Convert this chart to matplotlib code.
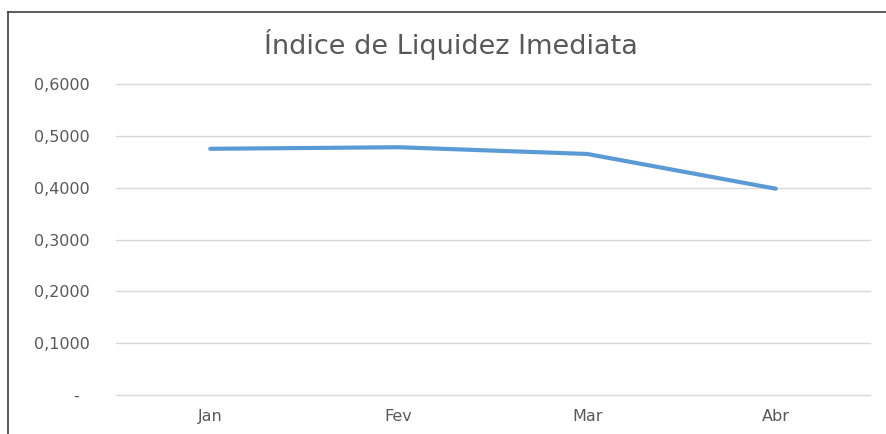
import matplotlib
matplotlib.use("Agg")
import matplotlib.pyplot as plt
from matplotlib.lines import Line2D
from matplotlib.ticker import FuncFormatter

meses = ["Jan", "Fev", "Mar", "Abr"]
liquidez = [0.475, 0.478, 0.465, 0.398]
y_ticks = [0.0, 0.1, 0.2, 0.3, 0.4, 0.5, 0.6]

plt.rcParams["font.family"] = ["DejaVu Sans"]
cinza = "#595959"

fig = plt.figure(figsize=(8.86, 4.34), dpi=100)
ax = fig.add_axes([116 / 886, 39 / 434, (870 - 116) / 886, (395 - 84) / 434])

x = list(range(len(meses)))
ax.plot(x, liquidez, color="#5B9BD5", lw=3, solid_capstyle="round", solid_joinstyle="round", zorder=3)

ax.set_xlim(-0.5, len(meses) - 0.5)
ax.set_ylim(0, 0.6)
ax.set_xticks(x)
ax.set_xticklabels(meses)
ax.set_yticks(y_ticks)


def fmt(v, pos):
    if abs(v) < 1e-9:
        return "-  "
    return f"{v:.4f}".replace(".", ",")


ax.yaxis.set_major_formatter(FuncFormatter(fmt))
ax.grid(axis="y", color="#D9D9D9", lw=1)
for g in ax.yaxis.get_gridlines():
    g.set_clip_on(False)
ax.set_axisbelow(True)
for s in ax.spines.values():
    s.set_visible(False)
ax.tick_params(axis="both", length=0, colors=cinza, labelsize=11.5)
ax.tick_params(axis="y", pad=19)
ax.tick_params(axis="x", pad=10)

fig.text(451 / 886, 1 - 45 / 434, "Índice de Liquidez Imediata", ha="center", va="center",
         fontsize=19.5, color=cinza)

# moldura do gráfico (só topo e esquerda aparecem no recorte)
fig.add_artist(Line2D([8 / 886, 1], [1 - 11.5 / 434] * 2, transform=fig.transFigure, color="#404040", lw=1.2))
fig.add_artist(Line2D([8 / 886] * 2, [0, 1 - 11.5 / 434], transform=fig.transFigure, color="#404040", lw=1.2))

fig.savefig("out.png", dpi=100)
